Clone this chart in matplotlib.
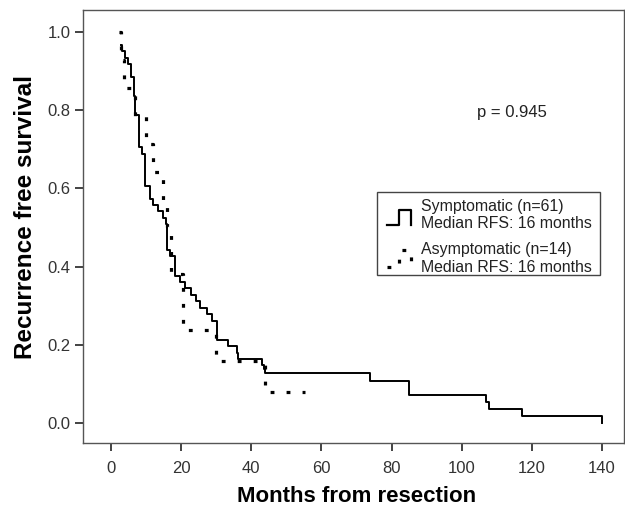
import matplotlib
matplotlib.use('Agg')
import matplotlib.pyplot as plt
from matplotlib.patches import Rectangle

plt.rcParams['font.family'] = ['Liberation Sans', 'DejaVu Sans']

# Symptomatic (n=61): step times (months) and survival after each step
sym_t = [2.8, 3.1, 4.0, 4.9, 5.6, 6.6, 6.9, 8.0, 8.8, 9.8, 11.1, 12.0, 13.4,
         14.8, 15.6, 15.9, 16.1, 16.8, 18.2, 19.7, 21.1, 22.8, 24.2, 25.4,
         27.5, 28.7, 30.1, 33.4, 35.8, 36.3, 43.0, 43.5, 43.9, 73.9, 85.1,
         106.9, 107.9, 117.1, 140.0]
sym_s = [0.967, 0.951, 0.934, 0.918, 0.885, 0.836, 0.787, 0.705, 0.689, 0.607,
         0.574, 0.557, 0.541, 0.525, 0.508, 0.459, 0.443, 0.426, 0.377, 0.361,
         0.344, 0.328, 0.311, 0.295, 0.279, 0.262, 0.213, 0.197, 0.180, 0.164,
         0.148, 0.139, 0.128, 0.108, 0.072, 0.054, 0.036, 0.018, 0.0]

# Asymptomatic (n=14)
asym_t = [2.2, 2.8, 3.8, 6.9, 10.0, 11.9, 14.9, 15.9, 17.0, 20.6, 29.9, 43.9, 55.2]
asym_s = [1.0, 0.929, 0.857, 0.786, 0.714, 0.643, 0.571, 0.5, 0.381, 0.238,
          0.159, 0.079, 0.079]

xticks = [0, 20, 40, 60, 80, 100, 120, 140]
yticks = [0.0, 0.2, 0.4, 0.6, 0.8, 1.0]

fig = plt.figure(figsize=(6.25, 5.13), dpi=100)
ax = fig.add_axes([83 / 625, 1 - 443 / 513, 541 / 625, 433 / 513])

ax.step(sym_t, sym_s, where='post', color='black', lw=1.4)
ax.step(asym_t, asym_s, where='post', color='black', lw=2.3,
        linestyle=(0, (1.2, 3.8)), dash_capstyle='butt')

ax.set_xlim(-8, 146.3)
ax.set_ylim(-0.051, 1.056)
ax.set_xticks(xticks)
ax.set_yticks(yticks)
ax.set_yticklabels(['%.1f' % v for v in yticks])

for s in ax.spines.values():
    s.set_color('#555555')
    s.set_linewidth(1.0)
ax.tick_params(direction='out', length=6, width=1.2, color='#222222',
               labelsize=12, labelcolor='#333333', pad=3)
ax.tick_params(axis='x', pad=7)

ax.set_xlabel('Months from resection', fontsize=16, fontweight='bold')
ax.set_ylabel('Recurrence free survival', fontsize=17.5, fontweight='bold')
ax.xaxis.set_label_coords(0.506, -0.100)
ax.yaxis.set_label_coords(-0.085, 0.522)

ax.text(0.793, 0.764, 'p = 0.945', transform=ax.transAxes, fontsize=12,
        ha='center', va='center', color='#222222')

# legend box drawn by hand
tr = ax.transAxes
ax.add_patch(Rectangle((0.543, 0.388), 0.413, 0.192, transform=tr,
                       fill=False, edgecolor='#444444', lw=1.0))
ax.plot([0.561, 0.585, 0.585, 0.606, 0.606], [0.503, 0.503, 0.538, 0.538, 0.503],
        transform=tr, color='black', lw=1.6)
ax.plot([0.561, 0.585, 0.585, 0.606, 0.606], [0.406, 0.406, 0.446, 0.446, 0.406],
        transform=tr, color='black', lw=2.3, linestyle=(0, (1.2, 3.8)))
for y, txt in [(0.546, 'Symptomatic (n=61)'), (0.508, 'Median RFS: 16 months'),
               (0.446, 'Asymptomatic (n=14)'), (0.406, 'Median RFS: 16 months')]:
    ax.text(0.624, y, txt, transform=tr, fontsize=11.4, va='center', color='#222222')

fig.savefig('out.png', dpi=100)
